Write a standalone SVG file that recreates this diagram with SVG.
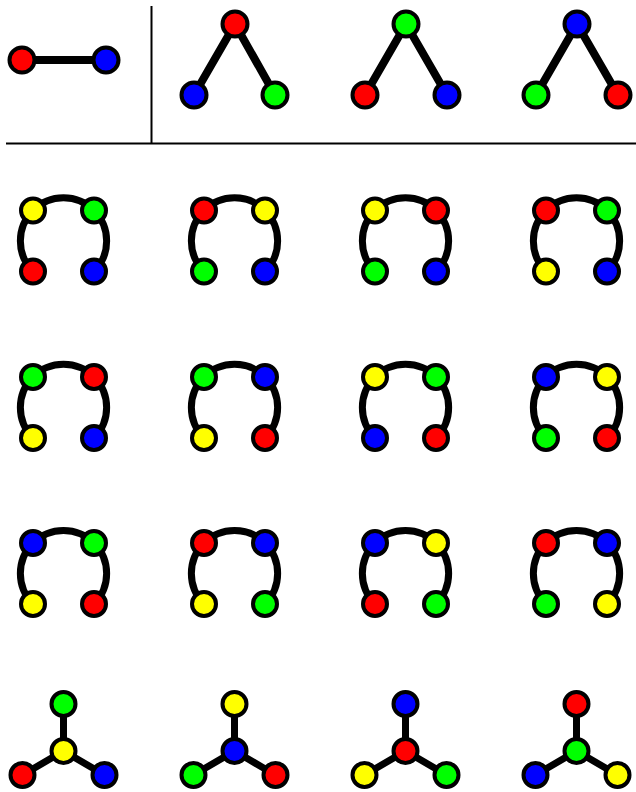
<svg xmlns="http://www.w3.org/2000/svg" width="636" height="792" viewBox="0 0 636 792">
<style>
.n{stroke:#000;stroke-width:4}
.r{fill:#f00}.g{fill:#0f0}.b{fill:#00f}.y{fill:#ff0}
.e{stroke:#000;stroke-width:7;fill:none}
.t{stroke-width:8}
.sep{stroke:#000;stroke-width:2;fill:none}
</style>
<rect width="636" height="792" fill="#fff"/>
<g id="separators">
<line class="sep" x1="151.5" y1="6" x2="151.5" y2="143"/>
<line class="sep" x1="6" y1="143.5" x2="636" y2="143.5"/>
</g>
<g id="connectors">
<line class="e t" x1="22" y1="60" x2="106" y2="60"/>
<path class="e t" d="M194 95 L235 24 L275 95"/>
<path class="e t" d="M365 95 L406 24 L447 95"/>
<path class="e t" d="M536 95 L577 24 L618 95"/>
<path class="e" d="M33 271.5 A43.13 43.13 0 1 1 94 271.5"/>
<path class="e" d="M204 271.5 A43.13 43.13 0 1 1 265 271.5"/>
<path class="e" d="M375 271.5 A43.13 43.13 0 1 1 436 271.5"/>
<path class="e" d="M546 271.5 A43.13 43.13 0 1 1 607 271.5"/>
<path class="e" d="M33 438 A43.13 43.13 0 1 1 94 438"/>
<path class="e" d="M204 438 A43.13 43.13 0 1 1 265 438"/>
<path class="e" d="M375 438 A43.13 43.13 0 1 1 436 438"/>
<path class="e" d="M546 438 A43.13 43.13 0 1 1 607 438"/>
<path class="e" d="M33 604 A43.13 43.13 0 1 1 94 604"/>
<path class="e" d="M204 604 A43.13 43.13 0 1 1 265 604"/>
<path class="e" d="M375 604 A43.13 43.13 0 1 1 436 604"/>
<path class="e" d="M546 604 A43.13 43.13 0 1 1 607 604"/>
<path class="e" d="M63.5 704 V751 L22.5 775 M63.5 751 L104.5 775"/>
<path class="e" d="M234.5 704 V751 L193.5 775 M234.5 751 L275.5 775"/>
<path class="e" d="M405.5 704 V751 L364.5 775 M405.5 751 L446.5 775"/>
<path class="e" d="M576.5 704 V751 L535.5 775 M576.5 751 L617.5 775"/>
</g>
<g id="edge-graph">
<g id="n-e1"><circle class="n r" cx="22" cy="60" r="12.5"/></g>
<g id="n-e2"><circle class="n b" cx="106" cy="60" r="12.5"/></g>
</g>
<g id="triangles">
<g id="n-t1a"><circle class="n r" cx="235" cy="24" r="12.5"/></g>
<g id="n-t1b"><circle class="n b" cx="194" cy="95" r="12.5"/></g>
<g id="n-t1c"><circle class="n g" cx="275" cy="95" r="12.5"/></g>
<g id="n-t2a"><circle class="n g" cx="406" cy="24" r="12.5"/></g>
<g id="n-t2b"><circle class="n r" cx="365" cy="95" r="12.5"/></g>
<g id="n-t2c"><circle class="n b" cx="447" cy="95" r="12.5"/></g>
<g id="n-t3a"><circle class="n b" cx="577" cy="24" r="12.5"/></g>
<g id="n-t3b"><circle class="n g" cx="536" cy="95" r="12.5"/></g>
<g id="n-t3c"><circle class="n r" cx="618" cy="95" r="12.5"/></g>
</g>
<g id="paths">
<g id="n-p11a"><circle class="n y" cx="33" cy="210.5" r="12"/></g>
<g id="n-p11b"><circle class="n g" cx="94" cy="210.5" r="12"/></g>
<g id="n-p11c"><circle class="n r" cx="33" cy="271.5" r="12"/></g>
<g id="n-p11d"><circle class="n b" cx="94" cy="271.5" r="12"/></g>
<g id="n-p12a"><circle class="n r" cx="204" cy="210.5" r="12"/></g>
<g id="n-p12b"><circle class="n y" cx="265" cy="210.5" r="12"/></g>
<g id="n-p12c"><circle class="n g" cx="204" cy="271.5" r="12"/></g>
<g id="n-p12d"><circle class="n b" cx="265" cy="271.5" r="12"/></g>
<g id="n-p13a"><circle class="n y" cx="375" cy="210.5" r="12"/></g>
<g id="n-p13b"><circle class="n r" cx="436" cy="210.5" r="12"/></g>
<g id="n-p13c"><circle class="n g" cx="375" cy="271.5" r="12"/></g>
<g id="n-p13d"><circle class="n b" cx="436" cy="271.5" r="12"/></g>
<g id="n-p14a"><circle class="n r" cx="546" cy="210.5" r="12"/></g>
<g id="n-p14b"><circle class="n g" cx="607" cy="210.5" r="12"/></g>
<g id="n-p14c"><circle class="n y" cx="546" cy="271.5" r="12"/></g>
<g id="n-p14d"><circle class="n b" cx="607" cy="271.5" r="12"/></g>
<g id="n-p21a"><circle class="n g" cx="33" cy="377" r="12"/></g>
<g id="n-p21b"><circle class="n r" cx="94" cy="377" r="12"/></g>
<g id="n-p21c"><circle class="n y" cx="33" cy="438" r="12"/></g>
<g id="n-p21d"><circle class="n b" cx="94" cy="438" r="12"/></g>
<g id="n-p22a"><circle class="n g" cx="204" cy="377" r="12"/></g>
<g id="n-p22b"><circle class="n b" cx="265" cy="377" r="12"/></g>
<g id="n-p22c"><circle class="n y" cx="204" cy="438" r="12"/></g>
<g id="n-p22d"><circle class="n r" cx="265" cy="438" r="12"/></g>
<g id="n-p23a"><circle class="n y" cx="375" cy="377" r="12"/></g>
<g id="n-p23b"><circle class="n g" cx="436" cy="377" r="12"/></g>
<g id="n-p23c"><circle class="n b" cx="375" cy="438" r="12"/></g>
<g id="n-p23d"><circle class="n r" cx="436" cy="438" r="12"/></g>
<g id="n-p24a"><circle class="n b" cx="546" cy="377" r="12"/></g>
<g id="n-p24b"><circle class="n y" cx="607" cy="377" r="12"/></g>
<g id="n-p24c"><circle class="n g" cx="546" cy="438" r="12"/></g>
<g id="n-p24d"><circle class="n r" cx="607" cy="438" r="12"/></g>
<g id="n-p31a"><circle class="n b" cx="33" cy="543" r="12"/></g>
<g id="n-p31b"><circle class="n g" cx="94" cy="543" r="12"/></g>
<g id="n-p31c"><circle class="n y" cx="33" cy="604" r="12"/></g>
<g id="n-p31d"><circle class="n r" cx="94" cy="604" r="12"/></g>
<g id="n-p32a"><circle class="n r" cx="204" cy="543" r="12"/></g>
<g id="n-p32b"><circle class="n b" cx="265" cy="543" r="12"/></g>
<g id="n-p32c"><circle class="n y" cx="204" cy="604" r="12"/></g>
<g id="n-p32d"><circle class="n g" cx="265" cy="604" r="12"/></g>
<g id="n-p33a"><circle class="n b" cx="375" cy="543" r="12"/></g>
<g id="n-p33b"><circle class="n y" cx="436" cy="543" r="12"/></g>
<g id="n-p33c"><circle class="n r" cx="375" cy="604" r="12"/></g>
<g id="n-p33d"><circle class="n g" cx="436" cy="604" r="12"/></g>
<g id="n-p34a"><circle class="n r" cx="546" cy="543" r="12"/></g>
<g id="n-p34b"><circle class="n b" cx="607" cy="543" r="12"/></g>
<g id="n-p34c"><circle class="n g" cx="546" cy="604" r="12"/></g>
<g id="n-p34d"><circle class="n y" cx="607" cy="604" r="12"/></g>
</g>
<g id="stars">
<g id="n-s1t"><circle class="n g" cx="63.5" cy="704" r="12"/></g>
<g id="n-s1c"><circle class="n y" cx="63.5" cy="751" r="12"/></g>
<g id="n-s1l"><circle class="n r" cx="22.5" cy="775" r="12"/></g>
<g id="n-s1r"><circle class="n b" cx="104.5" cy="775" r="12"/></g>
<g id="n-s2t"><circle class="n y" cx="234.5" cy="704" r="12"/></g>
<g id="n-s2c"><circle class="n b" cx="234.5" cy="751" r="12"/></g>
<g id="n-s2l"><circle class="n g" cx="193.5" cy="775" r="12"/></g>
<g id="n-s2r"><circle class="n r" cx="275.5" cy="775" r="12"/></g>
<g id="n-s3t"><circle class="n b" cx="405.5" cy="704" r="12"/></g>
<g id="n-s3c"><circle class="n r" cx="405.5" cy="751" r="12"/></g>
<g id="n-s3l"><circle class="n y" cx="364.5" cy="775" r="12"/></g>
<g id="n-s3r"><circle class="n g" cx="446.5" cy="775" r="12"/></g>
<g id="n-s4t"><circle class="n r" cx="576.5" cy="704" r="12"/></g>
<g id="n-s4c"><circle class="n g" cx="576.5" cy="751" r="12"/></g>
<g id="n-s4l"><circle class="n b" cx="535.5" cy="775" r="12"/></g>
<g id="n-s4r"><circle class="n y" cx="617.5" cy="775" r="12"/></g>
</g>
</svg>
